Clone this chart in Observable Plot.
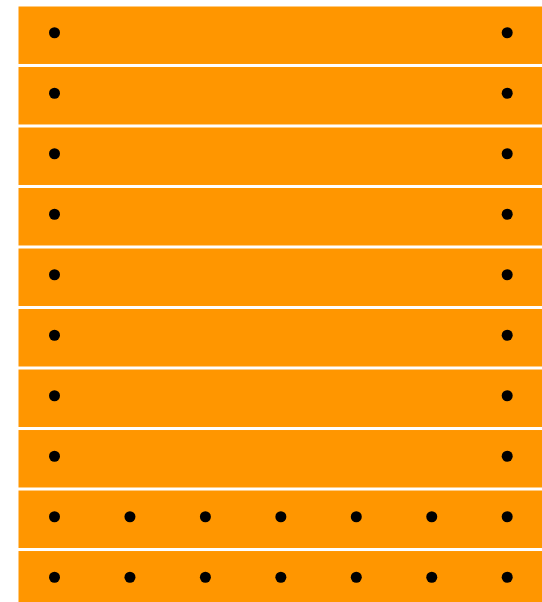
<!DOCTYPE html>
<html>
<head>
<meta charset="utf-8">
<script src="https://cdn.jsdelivr.net/npm/d3@7"></script>
<script src="https://cdn.jsdelivr.net/npm/@observablehq/plot@0.6"></script>
<style>
  html, body { margin: 0; padding: 0; overflow: hidden; background: #fff; }
  #chart svg { display: block; }
</style>
</head>
<body>
<div id="chart"></div>
<script>
// Rows (top to bottom)
const rows = ["1", "2", "3", "4", "5", "6", "7", "8", "9", "10"];
// Dot positions per row
const sparsePositions = [0, 6];
const densePositions = [0, 1, 2, 3, 4, 5, 6];
const denseRows = ["9", "10"];

const dots = rows.flatMap(r =>
  (denseRows.includes(r) ? densePositions : sparsePositions).map(p => ({row: r, pos: p}))
);

const chart = Plot.plot({
  width: 542,
  height: 608,
  marginTop: 6,
  marginBottom: 0,
  marginLeft: 18,
  marginRight: 0,
  x: {domain: [0, 6], insetLeft: 36, insetRight: 35.3, axis: null},
  fy: {domain: rows, paddingInner: 0.05, paddingOuter: 0, round: false, axis: null},
  marks: [
    Plot.frame({fill: "#ff9600", stroke: null}),
    Plot.dot(dots, {x: "pos", fy: "row", r: 5.5, fill: "black", stroke: null, dy: -2.5})
  ]
});
document.getElementById("chart").append(chart);
</script>
</body>
</html>
